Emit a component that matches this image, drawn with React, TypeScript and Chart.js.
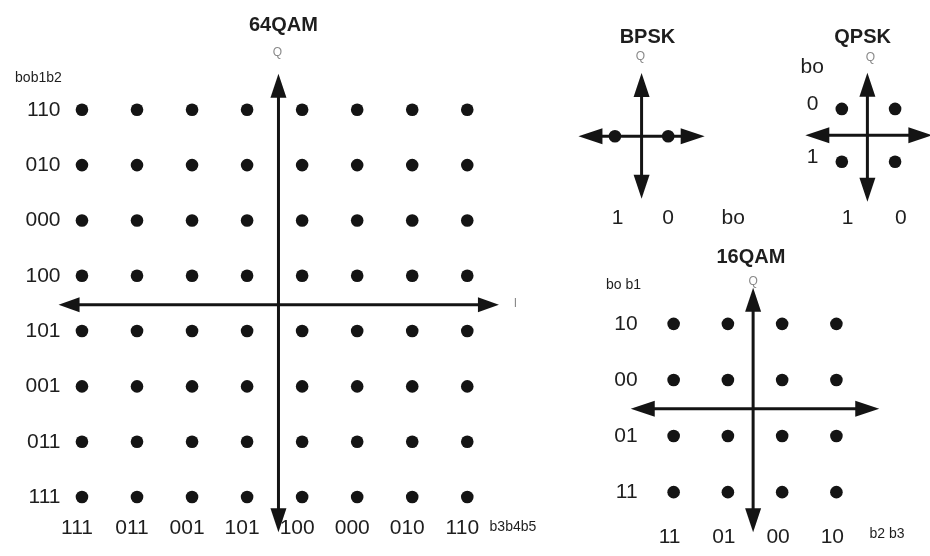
import React, { useEffect, useRef } from "react";
import { Chart, registerables } from "chart.js";

Chart.register(...registerables);

// ---------- data ----------
const qam64Levels = [-7, -5, -3, -1, 1, 3, 5, 7];
const qam64RowBits = ["110", "010", "000", "100", "101", "001", "011", "111"]; // top -> bottom
const qam64ColBits = ["111", "011", "001", "101", "100", "000", "010", "110"]; // left -> right

const bpskLevels = [-1, 1];
const bpskBits = ["1", "0"];

const qpskLevels = [-1, 1];
const qpskRowBits = ["0", "1"]; // top -> bottom
const qpskColBits = ["1", "0"]; // left -> right

const qam16Levels = [-3, -1, 1, 3];
const qam16RowBits = ["10", "00", "01", "11"]; // top -> bottom
const qam16ColBits = ["11", "01", "00", "10"]; // left -> right

// ---------- layout helpers ----------
const W = 930;
const H = 556;
const xRange = (centerPx: number, unitPx: number) => ({ min: -centerPx / unitPx, max: (W - centerPx) / unitPx });
const yRange = (centerPx: number, unitPx: number) => ({ min: -(H - centerPx) / unitPx, max: centerPx / unitPx });

const FONT_FAMILY = '"Liberation Sans", Arial, sans-serif';
const TITLE_FONT = `bold 20px ${FONT_FAMILY}`;
const BIG_FONT = `21px ${FONT_FAMILY}`;
const SMALL_FONT = `14px ${FONT_FAMILY}`;
const AXIS_FONT = `12px ${FONT_FAMILY}`;
const TEXT_COLOR = "#1e1e1e";
const AXIS_LABEL_COLOR = "#8a8a8a";
const INK = "#141414";

const grid = (cols: number[], rows: number[]) => {
  const pts: { x: number; y: number }[] = [];
  rows.forEach((y) => cols.forEach((x) => pts.push({ x, y })));
  return pts;
};

type Txt = { t: string; x: number; y: number; font: string; color?: string; align?: CanvasTextAlign };
type Diagram = {
  xId: string;
  yId: string;
  hArrow: { from: number; to: number; at: number; head: [number, number] };
  vArrow: { from: number; to: number; at: number; head: [number, number] };
  texts: Txt[];
};

const rowsTopDown = (levels: number[]) => [...levels].reverse();

const DIAGRAMS: Diagram[] = [
  {
    xId: "x64",
    yId: "y64",
    hArrow: { from: -7.85, to: 8.15, at: -0.05, head: [21, 15] },
    vArrow: { from: -8.27, to: 8.3, at: 0.14, head: [24, 16] },
    texts: [
      { t: "64QAM", x: 0.32, y: 10.04, font: TITLE_FONT },
      { t: "Q", x: 0.1, y: 9.05, font: AXIS_FONT, color: AXIS_LABEL_COLOR },
      { t: "I", x: 8.75, y: 0.0, font: AXIS_FONT, color: AXIS_LABEL_COLOR },
      { t: "bob1b2", x: -9.43, y: 8.13, font: SMALL_FONT, align: "left" },
      ...rowsTopDown(qam64Levels).map((lv, i) => ({ t: qam64RowBits[i], x: -7.78, y: lv, font: BIG_FONT, align: "right" as CanvasTextAlign })),
      ...qam64Levels.map((lv, i) => ({ t: qam64ColBits[i], x: lv - 0.18, y: -8.13, font: BIG_FONT })),
      { t: "b3b4b5", x: 7.81, y: -8.09, font: SMALL_FONT, align: "left" },
    ],
  },
  {
    xId: "xB",
    yId: "yB",
    hArrow: { from: -2.37, to: 2.37, at: 0, head: [24, 16] },
    vArrow: { from: -2.37, to: 2.4, at: 0, head: [24, 16] },
    texts: [
      { t: "BPSK", x: 0.22, y: 3.74, font: TITLE_FONT },
      { t: "Q", x: -0.04, y: 3.0, font: AXIS_FONT, color: AXIS_LABEL_COLOR },
      ...bpskLevels.map((lv, i) => ({ t: bpskBits[i], x: lv * 0.95 + 0.05, y: -3.11, font: BIG_FONT })),
      { t: "bo", x: 3.44, y: -3.11, font: BIG_FONT },
    ],
  },
  {
    xId: "xQ",
    yId: "yQ",
    hArrow: { from: -2.37, to: 2.4, at: 0, head: [24, 16] },
    vArrow: { from: -2.52, to: 2.37, at: -0.04, head: [24, 16] },
    texts: [
      { t: "QPSK", x: -0.22, y: 3.7, font: TITLE_FONT },
      { t: "Q", x: 0.07, y: 2.96, font: AXIS_FONT, color: AXIS_LABEL_COLOR },
      { t: "bo", x: -2.11, y: 2.59, font: BIG_FONT },
      ...rowsTopDown(qpskLevels).map((lv, i) => ({ t: qpskRowBits[i], x: -2.1, y: lv + 0.17, font: BIG_FONT })),
      ...qpskLevels.map((lv, i) => ({ t: qpskColBits[i], x: lv + 0.22, y: -3.15, font: BIG_FONT })),
    ],
  },
  {
    xId: "x16",
    yId: "y16",
    hArrow: { from: -4.58, to: 4.58, at: -0.03, head: [24, 16] },
    vArrow: { from: -4.43, to: 4.29, at: -0.07, head: [24, 16] },
    texts: [
      { t: "16QAM", x: -0.15, y: 5.37, font: TITLE_FONT },
      { t: "Q", x: -0.07, y: 4.5, font: AXIS_FONT, color: AXIS_LABEL_COLOR },
      { t: "bo b1", x: -5.49, y: 4.39, font: SMALL_FONT, align: "left" },
      ...rowsTopDown(qam16Levels).map((lv, i) => ({ t: qam16RowBits[i], x: -4.33, y: lv, font: BIG_FONT, align: "right" as CanvasTextAlign })),
      ...qam16Levels.map((lv, i) => ({ t: qam16ColBits[i], x: lv - 0.15, y: -4.6, font: BIG_FONT })),
      { t: "b2 b3", x: 4.22, y: -4.49, font: SMALL_FONT, align: "left" },
    ],
  },
];

function drawHead(ctx: CanvasRenderingContext2D, tx: number, ty: number, ux: number, uy: number, len: number, w: number) {
  const bx = tx - ux * len;
  const by = ty - uy * len;
  const px = -uy * (w / 2);
  const py = ux * (w / 2);
  ctx.beginPath();
  ctx.moveTo(tx, ty);
  ctx.lineTo(bx + px, by + py);
  ctx.lineTo(bx - px, by - py);
  ctx.closePath();
  ctx.fill();
}

function drawDoubleArrow(ctx: CanvasRenderingContext2D, x1: number, y1: number, x2: number, y2: number, head: [number, number]) {
  const dx = x2 - x1;
  const dy = y2 - y1;
  const len = Math.hypot(dx, dy) || 1;
  const ux = dx / len;
  const uy = dy / len;
  const [hl, hw] = head;
  ctx.beginPath();
  ctx.moveTo(x1 + ux * hl * 0.8, y1 + uy * hl * 0.8);
  ctx.lineTo(x2 - ux * hl * 0.8, y2 - uy * hl * 0.8);
  ctx.stroke();
  drawHead(ctx, x2, y2, ux, uy, hl, hw);
  drawHead(ctx, x1, y1, -ux, -uy, hl, hw);
}

const decorPlugin = {
  id: "constellationDecor",
  beforeDatasetsDraw(chart: any) {
    const ctx: CanvasRenderingContext2D = chart.ctx;
    ctx.save();
    ctx.strokeStyle = INK;
    ctx.fillStyle = INK;
    ctx.lineWidth = 3;
    ctx.lineCap = "butt";
    DIAGRAMS.forEach((d) => {
      const xs = chart.scales[d.xId];
      const ys = chart.scales[d.yId];
      const hy = ys.getPixelForValue(d.hArrow.at);
      drawDoubleArrow(ctx, xs.getPixelForValue(d.hArrow.from), hy, xs.getPixelForValue(d.hArrow.to), hy, d.hArrow.head);
      const vx = xs.getPixelForValue(d.vArrow.at);
      drawDoubleArrow(ctx, vx, ys.getPixelForValue(d.vArrow.from), vx, ys.getPixelForValue(d.vArrow.to), d.vArrow.head);
    });
    ctx.restore();
  },
  afterDatasetsDraw(chart: any) {
    const ctx: CanvasRenderingContext2D = chart.ctx;
    ctx.save();
    ctx.textBaseline = "middle";
    DIAGRAMS.forEach((d) => {
      const xs = chart.scales[d.xId];
      const ys = chart.scales[d.yId];
      d.texts.forEach((t) => {
        ctx.font = t.font;
        ctx.fillStyle = t.color || TEXT_COLOR;
        ctx.textAlign = t.align || "center";
        ctx.fillText(t.t, xs.getPixelForValue(t.x), ys.getPixelForValue(t.y));
      });
    });
    ctx.restore();
  },
};

const hiddenLinear = (r: { min: number; max: number }) => ({
  type: "linear" as const,
  display: false,
  min: r.min,
  max: r.max,
  bounds: "data" as const,
  grace: 0,
});

const pointStyle = {
  showLine: false,
  pointRadius: 6.3,
  pointHoverRadius: 6.3,
  pointBorderWidth: 0,
  backgroundColor: INK,
  borderColor: INK,
};

export default function App() {
  const canvasRef = useRef<HTMLCanvasElement | null>(null);

  useEffect(() => {
    if (!canvasRef.current) return;
    const chart = new Chart(canvasRef.current, {
      type: "scatter",
      data: {
        datasets: [
          { label: "64QAM", data: grid(qam64Levels, qam64Levels), xAxisID: "x64", yAxisID: "y64", ...pointStyle },
          { label: "BPSK", data: bpskLevels.map((x) => ({ x, y: 0 })), xAxisID: "xB", yAxisID: "yB", ...pointStyle },
          { label: "QPSK", data: grid(qpskLevels, qpskLevels), xAxisID: "xQ", yAxisID: "yQ", ...pointStyle },
          { label: "16QAM", data: grid(qam16Levels, qam16Levels), xAxisID: "x16", yAxisID: "y16", ...pointStyle },
        ],
      },
      options: {
        animation: false,
        responsive: false,
        devicePixelRatio: 1,
        events: [],
        layout: { padding: 0 },
        plugins: { legend: { display: false }, tooltip: { enabled: false } },
        scales: {
          x64: { ...hiddenLinear(xRange(272, 27.9)), axis: "x" },
          y64: { ...hiddenLinear(yRange(304, 28.3)), axis: "y" },
          xB: { ...hiddenLinear(xRange(644, 27)), axis: "x" },
          yB: { ...hiddenLinear(yRange(133, 27)), axis: "y" },
          xQ: { ...hiddenLinear(xRange(874, 27)), axis: "x" },
          yQ: { ...hiddenLinear(yRange(132, 27)), axis: "y" },
          x16: { ...hiddenLinear(xRange(759, 27.5)), axis: "x" },
          y16: { ...hiddenLinear(yRange(411, 28.7)), axis: "y" },
        } as any,
      },
      plugins: [decorPlugin],
    });
    return () => chart.destroy();
  }, []);

  return (
    <div style={{ position: "fixed", left: 0, top: 0, width: W, height: H, background: "#fff", overflow: "hidden" }}>
      <canvas ref={canvasRef} width={W} height={H} style={{ display: "block", width: W, height: H }} />
    </div>
  );
}
